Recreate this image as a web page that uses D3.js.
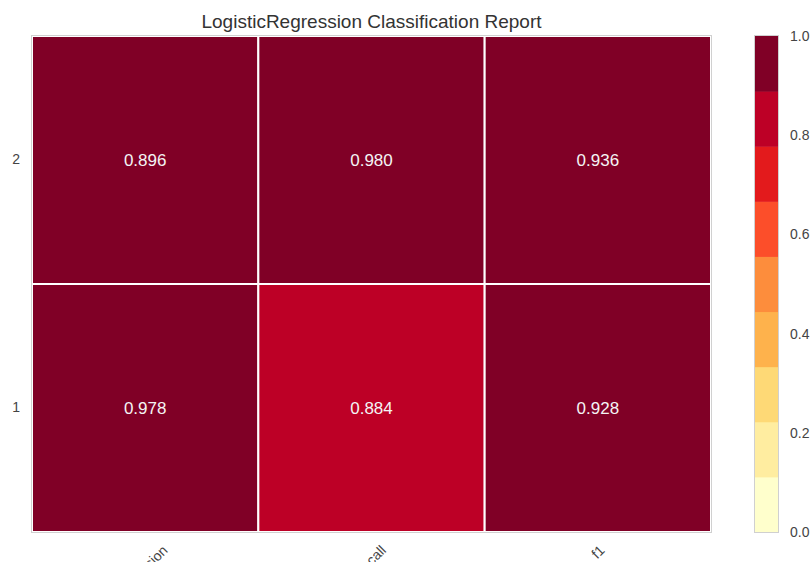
<!DOCTYPE html>
<html>
<head>
<meta charset="utf-8">
<script src="https://cdn.jsdelivr.net/npm/d3@7"></script>
<style>
  html, body { margin: 0; padding: 0; background: #fff; }
  svg { display: block; font-family: "Liberation Sans", Arial, sans-serif; }
</style>
</head>
<body>
<svg id="chart" width="812" height="562"></svg>
<script>
// Classification report values: rows are classes, columns are metrics
const metrics = ["precision", "recall", "f1"];
const classes = ["2", "1"];            // top row first
const scoresClass2 = [0.896, 0.980, 0.936];
const scoresClass1 = [0.978, 0.884, 0.928];
const colorbarTicks = [0.0, 0.2, 0.4, 0.6, 0.8, 1.0];
const palette = ["#ffffcc", "#ffeda0", "#fed976", "#feb24c", "#fd8d3c",
                 "#fc4e2a", "#e31a1c", "#bd0026", "#800026"];
const title = "LogisticRegression Classification Report";

const rows = { "2": scoresClass2, "1": scoresClass1 };
const cells = [];
classes.forEach(c => metrics.forEach((m, i) => cells.push({ cls: c, metric: m, value: rows[c][i] })));

const svg = d3.select("#chart");
const plot = { left: 32, right: 711, top: 36, bottom: 532 };
const bar = { left: 755, right: 778 };

const x = d3.scaleBand(metrics, [plot.left, plot.right]);
const y = d3.scaleBand(classes, [plot.top, plot.bottom]);
const color = d3.scaleQuantize([0, 1], palette);

// Title
svg.append("text")
  .attr("x", (plot.left + plot.right) / 2)
  .attr("y", 28)
  .attr("text-anchor", "middle")
  .attr("fill", "#333")
  .style("font-size", "19px")
  .text(title);

// Heatmap cells
const g = svg.append("g");
g.selectAll("rect.cell").data(cells).join("rect")
  .attr("class", "cell")
  .attr("x", d => x(d.metric))
  .attr("y", d => y(d.cls))
  .attr("width", x.bandwidth())
  .attr("height", y.bandwidth())
  .attr("fill", d => color(d.value))
  .attr("stroke", "#fff")
  .attr("stroke-width", 2);

g.selectAll("text.val").data(cells).join("text")
  .attr("class", "val")
  .attr("x", d => x(d.metric) + x.bandwidth() / 2)
  .attr("y", d => y(d.cls) + y.bandwidth() / 2)
  .attr("text-anchor", "middle")
  .attr("dominant-baseline", "central")
  .attr("fill", "#f4f4f4")
  .style("font-size", "17px")
  .text(d => d3.format(".3f")(d.value));

// Axes frame
svg.append("rect")
  .attr("x", plot.left - 0.5).attr("y", plot.top - 0.5)
  .attr("width", plot.right - plot.left + 1).attr("height", plot.bottom - plot.top + 1)
  .attr("fill", "none").attr("stroke", "#d0d0d0").attr("stroke-width", 1);

// Y axis (class labels)
const yAxis = svg.append("g")
  .attr("transform", `translate(${plot.left - 12},0)`)
  .call(d3.axisLeft(y).tickSize(0).tickPadding(0));
yAxis.select(".domain").remove();
yAxis.selectAll("text").attr("fill", "#444").style("font-size", "14px")
  .style("font-family", "'Liberation Sans', Arial, sans-serif");

// X axis (metric labels, rotated 45°, centred under each column)
const xl = svg.append("g");
xl.selectAll("text").data(metrics).join("text")
  .attr("text-anchor", "middle")
  .attr("dominant-baseline", "central")
  .attr("fill", "#444")
  .style("font-size", "14px")
  .text(d => d)
  .each(function (d) {
    const b = this.getBBox();
    const w = (b.width + b.height) * Math.SQRT1_2;
    const cx = x(d) + x.bandwidth() / 2;
    const cy = 542 + w / 2;
    d3.select(this).attr("transform", `translate(${cx},${cy}) rotate(-45)`);
  });

// Colorbar
const cb = d3.scaleLinear([0, 1], [plot.bottom, plot.top]);
const steps = palette.map((c, i) => ({ c, lo: i / palette.length, hi: (i + 1) / palette.length }));
svg.append("g").selectAll("rect").data(steps).join("rect")
  .attr("x", bar.left)
  .attr("y", d => cb(d.hi))
  .attr("width", bar.right - bar.left)
  .attr("height", d => cb(d.lo) - cb(d.hi) + 0.5)
  .attr("fill", d => d.c);
svg.append("rect")
  .attr("x", bar.left - 0.5).attr("y", plot.top - 0.5)
  .attr("width", bar.right - bar.left + 1).attr("height", plot.bottom - plot.top + 1)
  .attr("fill", "none").attr("stroke", "#d0d0d0");

const cAxis = svg.append("g")
  .attr("transform", `translate(${bar.right + 12},0)`)
  .call(d3.axisRight(cb).tickValues(colorbarTicks).tickFormat(d3.format(".1f")).tickSize(0).tickPadding(0));
cAxis.select(".domain").remove();
cAxis.selectAll("text").attr("fill", "#444").style("font-size", "14px")
  .style("font-family", "'Liberation Sans', Arial, sans-serif");
</script>
</body>
</html>
